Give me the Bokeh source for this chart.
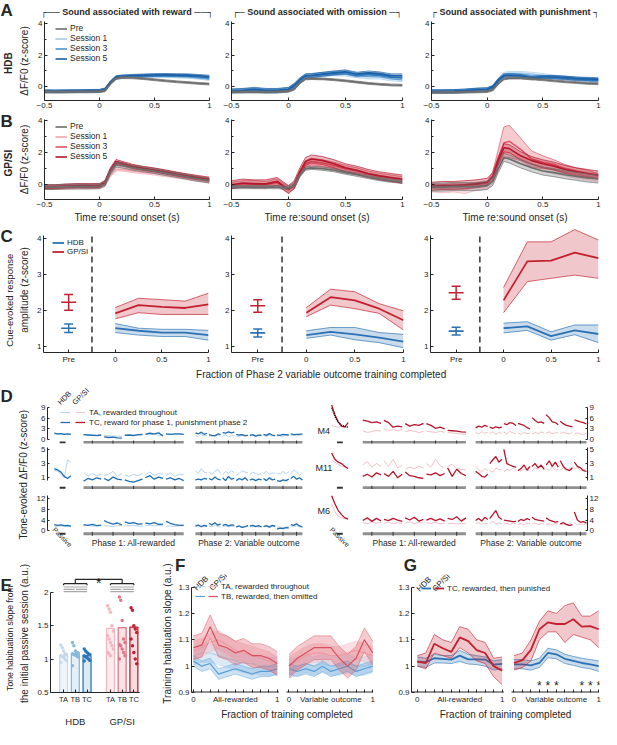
import numpy as np
from bokeh.plotting import figure
from bokeh.layouts import column, row
from bokeh.models import (Range1d, LinearAxis, FixedTicker, Label, Legend, LegendItem,
                          Whisker, TeeHead, ColumnDataSource, Title)
from bokeh.embed import file_html
from bokeh.resources import INLINE
from bokeh.core.properties import value

# ============================== DATA ==============================
# A / B : sound-evoked dF/F0 (z-score) around sound onset
t = [-0.5, -0.4, -0.3, -0.2, -0.1, 0.0, 0.05, 0.1, 0.15, 0.2, 0.3, 0.4, 0.5, 0.6, 0.7, 0.8, 0.9, 1.0]
sessions = ["Pre", "Session 1", "Session 3", "Session 5"]

hdb_reward = {
    "Pre":       [-0.32, -0.32, -0.32, -0.31, -0.31, -0.30, -0.25, 0.20, 0.52, 0.58, 0.57, 0.52, 0.45, 0.38, 0.32, 0.27, 0.22, 0.18],
    "Session 1": [-0.30, -0.30, -0.29, -0.28, -0.28, -0.27, -0.20, 0.25, 0.58, 0.63, 0.66, 0.68, 0.70, 0.69, 0.67, 0.64, 0.58, 0.50],
    "Session 3": [-0.28, -0.29, -0.28, -0.27, -0.26, -0.25, -0.18, 0.28, 0.60, 0.65, 0.68, 0.70, 0.72, 0.72, 0.70, 0.68, 0.62, 0.55],
    "Session 5": [-0.27, -0.28, -0.27, -0.26, -0.25, -0.24, -0.15, 0.30, 0.62, 0.66, 0.70, 0.73, 0.75, 0.76, 0.75, 0.74, 0.70, 0.65]}
hdb_reward_sem = {"Pre": 0.06, "Session 1": 0.10, "Session 3": 0.08, "Session 5": 0.08}

hdb_omission = {
    "Pre":       [-0.32, -0.32, -0.33, -0.33, -0.32, -0.28, -0.15, 0.25, 0.50, 0.52, 0.50, 0.45, 0.38, 0.30, 0.22, 0.16, 0.12, 0.10],
    "Session 1": [-0.28, -0.26, -0.22, -0.30, -0.28, -0.20, 0.00, 0.40, 0.65, 0.68, 0.80, 0.82, 0.80, 0.70, 0.62, 0.62, 0.50, 0.45],
    "Session 3": [-0.27, -0.25, -0.20, -0.25, -0.25, -0.18, 0.05, 0.42, 0.68, 0.70, 0.78, 0.85, 0.90, 0.75, 0.78, 0.75, 0.62, 0.55],
    "Session 5": [-0.25, -0.22, -0.15, -0.22, -0.22, -0.15, 0.10, 0.45, 0.70, 0.72, 0.80, 0.88, 0.95, 0.80, 0.88, 0.82, 0.70, 0.70]}
hdb_omission_sem = {"Pre": 0.06, "Session 1": 0.12, "Session 3": 0.12, "Session 5": 0.12}

hdb_punish = {
    "Pre":       [-0.35, -0.35, -0.35, -0.33, -0.32, -0.30, -0.20, 0.20, 0.50, 0.55, 0.55, 0.50, 0.45, 0.38, 0.32, 0.27, 0.22, 0.20],
    "Session 1": [-0.30, -0.30, -0.30, -0.28, -0.22, -0.20, -0.05, 0.45, 0.80, 0.85, 0.85, 0.80, 0.72, 0.62, 0.55, 0.50, 0.45, 0.42],
    "Session 3": [-0.30, -0.30, -0.28, -0.25, -0.20, -0.18, -0.05, 0.40, 0.72, 0.75, 0.72, 0.62, 0.62, 0.60, 0.55, 0.50, 0.45, 0.42],
    "Session 5": [-0.28, -0.28, -0.27, -0.24, -0.18, -0.15, 0.00, 0.42, 0.70, 0.72, 0.68, 0.55, 0.62, 0.62, 0.58, 0.52, 0.50, 0.47]}
hdb_punish_sem = {"Pre": 0.06, "Session 1": 0.12, "Session 3": 0.10, "Session 5": 0.10}

gp_reward = {
    "Pre":       [-0.15, -0.15, -0.12, -0.12, -0.12, -0.10, 0.05, 0.80, 1.25, 1.20, 1.05, 0.95, 0.85, 0.72, 0.60, 0.48, 0.35, 0.25],
    "Session 1": [-0.20, -0.20, -0.18, -0.15, -0.15, -0.12, 0.00, 0.60, 0.95, 0.95, 0.85, 0.78, 0.70, 0.60, 0.50, 0.40, 0.30, 0.20],
    "Session 3": [-0.15, -0.12, -0.10, -0.08, -0.10, -0.08, 0.10, 0.85, 1.30, 1.28, 1.10, 1.00, 0.90, 0.78, 0.65, 0.52, 0.40, 0.30],
    "Session 5": [-0.12, -0.12, -0.08, -0.05, -0.05, -0.05, 0.15, 0.95, 1.45, 1.35, 1.15, 1.02, 0.92, 0.80, 0.67, 0.55, 0.45, 0.35]}
gp_reward_sem = {"Pre": 0.15, "Session 1": 0.10, "Session 3": 0.12, "Session 5": 0.12}

gp_omission = {
    "Pre":       [-0.15, -0.15, -0.15, -0.15, -0.15, -0.20, -0.05, 0.60, 1.00, 1.05, 1.00, 0.90, 0.75, 0.62, 0.48, 0.35, 0.25, 0.18],
    "Session 1": [-0.10, 0.00, 0.00, -0.05, 0.10, -0.25, -0.10, 0.60, 1.10, 1.20, 1.10, 1.00, 0.85, 0.75, 0.55, 0.45, 0.30, 0.20],
    "Session 3": [-0.05, 0.05, 0.05, 0.00, 0.15, -0.30, -0.05, 0.70, 1.30, 1.45, 1.35, 1.20, 1.00, 0.85, 0.65, 0.50, 0.40, 0.30],
    "Session 5": [0.00, 0.10, 0.05, 0.05, 0.20, -0.30, 0.00, 0.80, 1.45, 1.60, 1.50, 1.30, 1.05, 0.90, 0.70, 0.55, 0.45, 0.35]}
gp_omission_sem = {"Pre": 0.10, "Session 1": 0.12, "Session 3": 0.20, "Session 5": 0.25}

gp_punish = {
    "Pre":       [-0.15, -0.15, -0.12, -0.12, -0.12, -0.05, 0.20, 1.00, 1.70, 1.60, 1.30, 1.05, 0.85, 0.75, 0.62, 0.52, 0.42, 0.35],
    "Session 1": [-0.20, -0.25, -0.20, -0.30, -0.10, 0.00, 0.30, 1.20, 2.00, 1.95, 1.60, 1.30, 1.10, 0.95, 0.80, 0.65, 0.55, 0.45],
    "Session 3": [-0.10, -0.10, -0.05, -0.05, 0.00, 0.10, 0.50, 1.60, 2.60, 2.70, 2.20, 1.60, 1.40, 1.25, 1.00, 0.85, 0.70, 0.55],
    "Session 5": [-0.10, -0.05, -0.05, 0.00, 0.05, 0.15, 0.50, 1.50, 2.30, 2.25, 1.80, 1.50, 1.30, 1.15, 0.95, 0.80, 0.70, 0.60]}
gp_punish_sem = {"Pre": 0.25, "Session 1": 0.25,
                 "Session 3": [0.1, 0.1, 0.1, 0.1, 0.1, 0.1, 0.3, 0.6, 1.0, 1.0, 0.7, 0.5, 0.4, 0.3, 0.25, 0.2, 0.2, 0.15],
                 "Session 5": 0.25}

# C : cue-evoked response amplitude vs fraction of phase 2 completed
c_x = [0.0, 0.25, 0.5, 0.75, 1.0]
c_pre_gp = [2.23, 2.13, 2.49]
c_pre_gp_lo = [2.01, 1.95, 2.31]
c_pre_gp_hi = [2.44, 2.30, 2.67]
c_pre_hdb = [1.51, 1.38, 1.43]
c_pre_hdb_lo = [1.39, 1.27, 1.32]
c_pre_hdb_hi = [1.63, 1.49, 1.54]
c_gp = [dict(m=[1.92, 2.15, 2.10, 2.07, 2.17], lo=[1.77, 1.94, 1.89, 1.89, 1.89], hi=[2.08, 2.34, 2.30, 2.26, 2.48]),
        dict(m=[1.94, 2.37, 2.28, 2.05, 1.73], lo=[1.83, 2.15, 2.05, 1.92, 1.46], hi=[2.08, 2.59, 2.52, 2.19, 1.99]),
        dict(m=[2.28, 3.36, 3.38, 3.60, 3.45], lo=[1.94, 2.80, 2.89, 2.98, 2.89], hi=[2.64, 3.90, 3.90, 4.24, 3.95])]
c_hdb = [dict(m=[1.51, 1.44, 1.39, 1.39, 1.32], lo=[1.39, 1.32, 1.28, 1.28, 1.18], hi=[1.64, 1.51, 1.48, 1.48, 1.45]),
         dict(m=[1.32, 1.41, 1.34, 1.25, 1.14], lo=[1.23, 1.32, 1.19, 1.11, 0.97], hi=[1.44, 1.53, 1.53, 1.39, 1.34]),
         dict(m=[1.51, 1.56, 1.29, 1.45, 1.35], lo=[1.38, 1.45, 1.18, 1.33, 1.11], hi=[1.65, 1.69, 1.41, 1.60, 1.60])]

# D : tone-evoked responses per session (passive, phase 1 x5, phase 2 x8)
d_hdb_ta = {
    "M4": dict(passive=[1.6, 1.5, 1.7, 1.6, 1.5, 1.6],
               phase1=[[1.5, 1.4, 1.5, 1.3, 1.4], [1.2, 1.1, 1.0, 1.0, 0.9], [1.3, 1.2, 1.4, 1.3, 1.2], [1.6, 1.4, 1.5, 1.2, 1.3], [1.5, 1.5, 1.4, 1.5, 1.5]],
               phase2=[[1.2, 0.8, 1.5, 1.0, 1.2], [1.1, 0.9, 1.0, 1.2, 1.0], [0.9, 1.4, 0.7, 1.2, 1.0], [1.1, 0.8, 1.3, 1.0, 1.2],
                       [1.0, 1.2, 0.9, 1.1, 1.0], [1.2, 0.9, 1.3, 1.0, 1.1], [1.0, 1.1, 0.9, 1.2, 1.0], [1.1, 1.3, 1.0, 1.2, 1.4]]),
    "M11": dict(passive=[2.1, 1.9, 1.5, 1.0, 3.5, 3.2],
                phase1=[[1.8, 1.2, 1.6, 1.3, 1.5], [1.3, 1.5, 1.9, 1.2, 1.6], [1.4, 1.2, 1.5, 1.3, 1.6], [1.4, 1.8, 1.3, 1.6, 1.5], [1.3, 1.7, 1.2, 1.5, 1.4]],
                phase2=[[2.0, 1.6, 2.3, 1.8, 1.7], [1.8, 1.5, 1.9, 2.2, 1.6], [1.4, 1.9, 1.6, 2.0, 1.7], [1.3, 1.6, 2.0, 1.8, 1.7],
                        [1.5, 1.8, 1.6, 1.4, 1.7], [1.6, 1.9, 1.5, 1.7, 1.6], [1.7, 1.5, 1.9, 1.6, 1.8], [1.5, 2.1, 1.8, 1.4, 1.6]]),
    "M6": dict(passive=[1.8, 1.7, 1.9, 1.6, 1.5, 1.6],
               phase1=[[1.8, 2.0, 1.7, 1.9, 1.8], [2.0, 1.8, 1.5, 1.9, 2.1], [2.2, 1.9, 2.0, 1.8, 1.7], [1.9, 2.1, 1.8, 2.0, 1.9], [1.7, 1.8, 1.6, 1.9, 1.8]],
               phase2=[[1.5, 1.8, 1.4, 1.6, 1.5], [1.7, 1.5, 1.9, 1.6, 1.4], [1.6, 1.8, 1.5, 1.7, 1.6], [1.4, 1.6, 1.3, 1.5, 1.7],
                       [1.6, 1.5, 1.8, 1.4, 1.6], [1.5, 1.7, 1.4, 1.6, 1.5], [1.3, 1.5, 1.2, 1.4, 1.6], [1.8, 1.6, 1.9, 1.5, 1.4]])}
d_hdb_tc = {
    "M4": dict(passive=[1.8, 1.6, 1.7, 1.5, 1.6, 1.5],
               phase1=[[1.4, 1.3, 1.2, 1.1, 1.3], [0.8, 0.6, 0.7, 0.5, 0.4], [1.2, 1.3, 1.1, 1.4, 1.5], [1.5, 1.8, 1.6, 1.9, 1.0], [1.6, 1.5, 1.6, 1.6, 1.5]],
               phase2=[[1.9, 1.6, 2.1, 1.5, 1.8], [1.4, 1.2, 1.1, 1.6, 1.5], [2.0, 1.8, 2.2, 1.9, 2.1], [1.5, 1.3, 1.4, 1.1, 1.2],
                       [1.2, 1.4, 1.0, 1.3, 1.2], [1.5, 1.2, 1.7, 1.3, 1.1], [1.3, 1.2, 1.5, 1.4, 1.3], [1.6, 1.4, 1.5, 1.5, 1.6]]),
    "M11": dict(passive=[2.3, 2.1, 1.8, 1.2, 0.9, 1.3],
                phase1=[[0.5, 0.9, 0.7, 1.0, 0.8], [0.9, 0.6, 1.1, 0.8, 0.7], [0.7, 0.5, 0.4, 0.6, 0.8], [1.0, 1.3, 0.8, 1.1, 0.9], [0.8, 1.0, 0.7, 0.9, 0.6]],
                phase2=[[0.7, 0.8, 0.7, 0.9, 0.8], [0.9, 0.7, 1.1, 0.8, 0.7], [1.0, 0.6, 1.2, 0.8, 0.9], [0.6, 0.9, 0.7, 1.0, 0.6],
                        [0.7, 0.8, 0.6, 0.8, 0.7], [0.9, 0.6, 1.0, 0.7, 0.8], [0.6, 0.5, 0.7, 0.6, 0.8], [0.9, 1.2, 0.8, 1.0, 0.7]]),
    "M6": dict(passive=[2.3, 2.0, 2.2, 1.9, 2.0, 1.7],
               phase1=[[2.3, 2.0, 2.4, 1.9, 2.1], [3.8, 3.0, 2.5, 2.9, 2.2], [3.3, 2.8, 3.0, 2.5, 2.6], [2.9, 2.6, 3.0, 2.4, 2.5], [3.5, 2.8, 2.3, 2.0, 2.1]],
               phase2=[[1.8, 2.1, 1.6, 2.0, 1.7], [2.8, 2.2, 3.0, 2.1, 2.5], [2.0, 2.4, 1.8, 2.2, 2.0], [1.5, 1.8, 1.3, 1.6, 1.9],
                       [1.8, 2.0, 1.6, 1.9, 1.5], [1.6, 1.9, 1.4, 2.0, 1.7], [0.6, 1.0, 0.8, 1.2, 1.1], [2.3, 2.0, 2.6, 1.8, 1.5]])}
d_gp_ta = {
    "M4": dict(passive=[4.0, 3.7, 3.5, 3.6, 3.4, 3.5],
               phase1=[[2.5, 2.0, 2.3, 2.6, 2.4], [3.0, 2.6, 2.8, 2.5, 2.9], [2.2, 2.6, 2.4, 2.0, 2.3], [2.4, 2.2, 2.0, 2.3, 2.1], [2.0, 1.9, 1.7, 1.6, 1.5]],
               phase2=[[2.0, 1.6, 2.2, 1.8, 2.1], [1.7, 2.1, 1.5, 2.0, 1.8], [2.1, 1.7, 2.3, 1.9, 1.6], [1.9, 1.5, 2.0, 1.7, 1.8],
                       [1.6, 2.0, 1.7, 2.2, 1.8], [1.8, 2.2, 1.6, 1.9, 2.0], [1.7, 2.1, 1.8, 1.6, 2.0], [1.5, 1.9, 1.6, 1.4, 1.8]]),
    "M11": dict(passive=[3.5, 3.2, 2.9, 2.6, 2.5, 2.3],
                phase1=[[2.8, 3.3, 2.5, 3.0, 2.6], [3.4, 2.6, 3.6, 2.4, 2.8], [2.2, 2.5, 2.3, 2.6, 2.4], [3.0, 2.5, 3.6, 2.7, 2.4], [2.6, 2.9, 2.3, 2.2, 2.1]],
                phase2=[[2.6, 2.2, 1.8, 2.3, 2.0], [2.0, 1.8, 2.4, 2.1, 2.2], [1.8, 2.2, 2.0, 2.4, 2.1], [2.2, 1.9, 2.3, 2.0, 2.1],
                        [2.0, 2.4, 2.2, 2.6, 2.3], [2.3, 2.0, 2.5, 2.1, 2.2], [2.1, 2.4, 2.0, 2.3, 2.2], [2.2, 2.5, 2.0, 2.1, 2.3]]),
    "M6": dict(passive=[10.0, 7.0, 5.5, 4.8, 4.5, 4.2],
               phase1=[[3.0, 2.6, 3.2, 2.8, 3.1], [2.8, 3.2, 2.6, 3.0, 2.7], [2.9, 3.3, 2.7, 3.1, 2.8], [3.0, 2.7, 3.2, 2.6, 2.9], [2.6, 2.8, 2.5, 2.7, 2.6]],
               phase2=[[2.6, 3.0, 2.4, 2.8, 2.7], [2.8, 3.5, 2.5, 3.0, 2.6], [2.5, 2.8, 2.4, 2.9, 2.6], [2.4, 2.7, 2.2, 2.8, 2.5],
                       [2.6, 2.9, 2.3, 2.7, 2.5], [2.3, 2.6, 2.1, 2.8, 2.4], [2.2, 2.5, 2.0, 2.6, 2.3], [2.8, 2.4, 2.6, 2.3, 2.5]])}
d_gp_tc = {
    "M4": dict(passive=[9.8, 7.0, 5.0, 3.8, 3.6, 4.8],
               phase1=[[5.5, 5.2, 4.8, 5.0, 4.6], [5.4, 4.8, 3.5, 3.8, 3.6], [4.5, 3.8, 4.2, 4.0, 4.6], [4.5, 4.0, 3.2, 3.5, 3.0], [2.6, 2.5, 2.4, 2.2, 2.1]],
               phase2=[[3.3, 3.8, 3.5, 4.0, 3.7], [3.5, 3.2, 3.6, 3.3, 3.5], [4.5, 4.2, 4.8, 4.6, 4.0], [4.6, 4.3, 4.0, 3.4, 3.0],
                       [6.2, 5.4, 4.8, 5.0, 4.6], [7.0, 6.2, 5.0, 4.8, 4.2], [5.2, 4.5, 4.0, 3.8, 3.6], [5.6, 5.3, 5.0, 4.8, 4.4]]),
    "M11": dict(passive=[4.5, 3.6, 3.2, 3.0, 2.6, 2.3],
                phase1=[[1.2, 1.5, 1.1, 1.7, 1.4], [1.6, 1.2, 1.9, 1.0, 1.5], [1.8, 1.3, 1.2, 1.0, 0.9], [1.5, 1.4, 1.7, 1.3, 1.6], [2.4, 1.2, 2.2, 1.6, 1.3]],
                phase2=[[1.9, 1.6, 1.2, 1.1, 1.5], [3.0, 3.5, 4.0, 3.2, 3.6], [5.0, 3.0, 2.8, 2.6, 2.5], [2.0, 2.3, 2.8, 2.1, 2.6],
                        [2.6, 3.0, 2.4, 2.8, 2.2], [2.8, 3.4, 2.6, 3.2, 2.5], [3.4, 2.6, 2.2, 2.0, 2.4], [3.2, 2.6, 2.4, 2.0, 1.9]]),
    "M6": dict(passive=[13.0, 10.0, 7.5, 6.0, 4.8, 4.4],
               phase1=[[3.8, 4.8, 3.5, 4.6, 3.7], [4.2, 3.8, 4.6, 4.0, 3.5], [4.8, 4.0, 5.0, 3.6, 4.2], [4.0, 4.6, 3.8, 4.4, 3.6], [4.6, 4.2, 5.2, 3.6, 4.8]],
               phase2=[[3.8, 4.6, 3.6, 5.0, 4.2], [4.5, 6.0, 7.5, 5.0, 4.2], [4.0, 3.8, 3.6, 3.4, 3.5], [3.5, 4.2, 3.8, 4.5, 4.0],
                       [5.0, 4.2, 4.0, 3.8, 3.6], [4.8, 4.0, 3.6, 3.2, 3.4], [2.6, 3.0, 2.4, 2.0, 2.2], [7.0, 4.0, 3.2, 3.4, 2.8]])}
d_gp_fit = [9.0, 6.5, 4.9, 4.1, 3.7, 3.5]

# E : tone habituation slope
e_groups = ["HDB", "GP/SI"]
e_types = ["TA", "TB", "TC"]
e_mean = [1.05, 1.08, 1.05, 1.46, 1.47, 1.48]
e_points = [[1.21, 1.17, 1.12, 1.08, 1.07, 1.05, 1.04, 1.03, 1.00, 0.98, 0.95],
            [1.25, 1.20, 1.12, 1.10, 1.09, 1.08, 1.07, 1.06, 1.05, 1.03, 0.90],
            [1.15, 1.12, 1.10, 1.08, 1.07, 1.05, 1.03, 1.02, 1.00, 0.98, 0.97],
            [1.80, 1.75, 1.70, 1.50, 1.42, 1.35, 1.30, 1.25, 1.20, 1.15, 1.10, 1.08, 1.05],
            [1.93, 1.88, 1.58, 1.30, 1.25, 1.22, 1.20, 1.15, 1.10, 1.05, 1.00],
            [1.77, 1.73, 1.50, 1.45, 1.40, 1.30, 1.20, 1.10, 1.00, 0.93]]

# F / G : training habituation slope
f_x = [0.0, 0.1, 0.2, 0.3, 0.4, 0.5, 0.6, 0.7, 0.8, 0.9, 1.0]
f_hdb_ta = dict(all=[1.04, 1.05, 1.05, 1.04, 1.03, 1.02, 1.01, 1.01, 1.00, 1.00, 1.00],
                var=[0.99, 1.00, 1.01, 1.00, 1.01, 1.00, 1.00, 1.01, 1.00, 1.00, 1.01], sem=0.035)
f_hdb_tb = dict(all=[1.02, 1.00, 1.01, 0.97, 0.98, 0.99, 0.98, 0.97, 0.98, 0.98, 0.99],
                var=[0.99, 0.98, 0.99, 0.98, 1.00, 0.98, 0.99, 1.00, 0.98, 0.99, 1.00], sem=0.02)
f_gp_ta = dict(all=[1.06, 1.07, 1.09, 1.10, 1.08, 1.06, 1.05, 1.04, 1.03, 1.02, 1.00],
               var=[1.00, 1.02, 1.04, 1.05, 1.05, 1.04, 1.04, 1.05, 1.06, 1.05, 1.04], sem=0.035)
f_gp_tb = dict(all=[1.07, 1.08, 1.15, 1.08, 1.07, 1.05, 1.06, 1.04, 1.04, 1.03, 1.01],
               var=[1.00, 1.03, 1.05, 1.07, 1.07, 1.07, 1.03, 1.00, 1.03, 1.10, 1.05], sem=0.045)

g_gp_tc = dict(all=[1.017, 1.012, 1.085, 1.068, 1.054, 1.109, 1.095, 1.061, 1.050, 1.000, 0.983],
               all_lo=[1.00, 0.99, 1.05, 1.04, 1.03, 1.07, 1.05, 1.02, 1.01, 0.96, 0.93],
               all_hi=[1.04, 1.05, 1.12, 1.10, 1.09, 1.15, 1.14, 1.10, 1.09, 1.03, 1.035],
               var=[1.012, 1.023, 1.062, 1.140, 1.166, 1.160, 1.160, 1.178, 1.150, 1.152, 1.140],
               var_lo=[0.985, 0.995, 1.02, 1.10, 1.13, 1.13, 1.09, 1.12, 1.11, 1.10, 1.07],
               var_hi=[1.04, 1.05, 1.10, 1.17, 1.21, 1.20, 1.23, 1.24, 1.19, 1.19, 1.21])
g_hdb_tc = dict(all=[1.017, 1.015, 1.030, 1.028, 1.025, 1.040, 1.026, 1.026, 1.025, 1.006, 1.009],
                all_lo=[1.000, 0.995, 1.012, 1.012, 1.010, 1.018, 1.008, 1.006, 1.000, 0.985, 0.990],
                all_hi=[1.035, 1.030, 1.045, 1.040, 1.040, 1.060, 1.045, 1.040, 1.035, 1.020, 1.025],
                var=[1.007, 1.007, 1.003, 1.012, 1.050, 1.045, 1.028, 1.020, 1.012, 1.007, 1.000],
                var_lo=[0.990, 0.990, 0.985, 0.995, 1.032, 1.028, 1.010, 1.003, 0.995, 0.990, 0.980],
                var_hi=[1.025, 1.025, 1.020, 1.030, 1.068, 1.062, 1.045, 1.037, 1.030, 1.025, 1.020])
g_sig = [0.3, 0.4, 0.5, 0.8, 0.9, 1.0]

# ============================== STYLE / HELPERS ==============================
FONT = "Liberation Sans"
INK = "#262626"
SX = 601 / 617
SY = 729 / 745


def X(v):
    return int(round(v * SX))


def Y(v):
    return int(round(v * SY))


def style_axis(ax, size="8px"):
    ax.axis_line_color = INK
    ax.axis_line_width = 1
    ax.major_tick_line_color = INK
    ax.minor_tick_line_color = INK
    ax.major_tick_in = 3
    ax.major_tick_out = 0
    ax.minor_tick_in = 2
    ax.minor_tick_out = 0
    ax.major_label_text_font = FONT
    ax.major_label_text_font_size = size
    ax.major_label_text_color = INK
    ax.major_label_standoff = 2
    ax.axis_label_text_font = FONT
    ax.axis_label_text_font_size = "10px"
    ax.axis_label_text_font_style = "normal"
    ax.axis_label_text_color = INK
    ax.axis_label_standoff = 2


def anchor_range(anch, f):
    vh, ph, vl, pl = anch
    unit = (pl - ph) / (vh - vl)
    return (vl - (f[1] - pl) / unit, vh + (ph - f[0]) / unit)


class Pane:
    def __init__(self, cx, cy, fx, fy, xr, yr, axes=True, title=None):
        self.fx, self.fy, self.xr, self.yr = fx, fy, xr, yr
        kw = {} if axes else dict(x_axis_location=None, y_axis_location=None)
        p = figure(width=X(cx[1]) - X(cx[0]), height=Y(cy[1]) - Y(cy[0]),
                   x_range=Range1d(*xr), y_range=Range1d(*yr), title=title,
                   output_backend="svg", toolbar_location=None,
                   min_border_left=X(fx[0]) - X(cx[0]), min_border_right=X(cx[1]) - X(fx[1]),
                   min_border_top=Y(fy[0]) - Y(cy[0]), min_border_bottom=Y(cy[1]) - Y(fy[1]), **kw)
        p.outline_line_color = None
        p.grid.visible = False
        p.background_fill_color = "white"
        p.border_fill_color = "white"
        if axes:
            for ax in p.axis:
                style_axis(ax)
        self.p = p

    def dx(self, rx):
        (a, b), (u, v) = self.fx, self.xr
        return u + (rx - a) / (b - a) * (v - u)

    def dy(self, ry):
        (a, b), (u, v) = self.fy, self.yr
        return v - (ry - a) / (b - a) * (v - u)

    def sx(self, rx):
        return X(rx) - X(self.fx[0])

    def sy(self, ry):
        return Y(self.fy[1]) - Y(ry)

    def label(self, rx, ry, text, size="8px", align="left", baseline="middle", angle=0.0, bold=False):
        self.p.add_layout(Label(x=self.dx(rx), y=self.dy(ry), text=text, angle=angle,
                                text_font=FONT, text_font_size=size, text_align=align,
                                text_baseline=baseline, text_color=INK,
                                text_font_style="bold" if bold else "normal"))

    def letter(self, rx, ry, text):
        self.label(rx, ry, text, size="17px", bold=True, baseline="top")


def letter_title(text, dx_ref):
    return Title(text=text, align="left", offset=-(dx_ref * SX), text_font=FONT, text_font_size="17px",
                 text_font_style="bold", text_color=INK, standoff=0)


def add_legend(P, items, rx, ry_bottom, glyph_w=12, label_w=20, standoff=3, size="8px", row_h=9):
    lg = Legend(items=items, location=(P.sx(rx), P.sy(ry_bottom)), orientation="vertical",
                label_text_font=FONT, label_text_font_size=size, label_text_color=INK,
                glyph_width=glyph_w, glyph_height=row_h, label_height=row_h, label_width=label_w,
                label_standoff=standoff, spacing=0, padding=0, margin=0,
                border_line_color=None, background_fill_alpha=0)
    P.p.add_layout(lg)


def band(p, x, lo, hi, color, alpha=0.3, edge_w=0.8):
    p.varea(x=x, y1=lo, y2=hi, fill_color=color, fill_alpha=alpha)
    p.line(x, lo, line_color=color, line_width=edge_w, line_alpha=0.85)
    p.line(x, hi, line_color=color, line_width=edge_w, line_alpha=0.85)


GRAY = "#6d6d6d"
COL_HDB = {"Pre": GRAY, "Session 1": "#a8cbe8", "Session 3": "#4a92ce", "Session 5": "#1b5fa6"}
COL_GP = {"Pre": GRAY, "Session 1": "#f2a5af", "Session 3": "#de5361", "Session 5": "#b3172c"}
BLUE = "#2b72b4"
RED = "#c3202f"
LW = 16  # width (reference px) of the left text column


# ============================== A / B ==============================
def trace_panel(cx, fx, cy, fy, yanch, means, sems, cols, title=None, xlabel=None,
                ylabel=False, legend_bottom=None):
    ttl = None
    if title:
        ttl = Title(text=title, align="center", text_font=FONT, text_font_size="9px",
                    text_font_style="bold", text_color=INK, standoff=9)
    P = Pane(cx, cy, fx, fy, (-0.5, 1.0), anchor_range(yanch, fy), title=ttl)
    p = P.p
    rend = {}
    for name in sessions[1:] + sessions[:1]:
        m = np.asarray(means[name], float)
        s = np.broadcast_to(np.asarray(sems[name], float), m.shape)
        c = cols[name]
        band(p, t, m - s, m + s, c, alpha=0.3)
        rend[name] = p.line(t, m, line_color=c, line_width=1.6)
    p.xaxis.ticker = FixedTicker(ticks=[-0.5, 0, 0.5, 1])
    p.xaxis.major_label_overrides = {0: "0", 1: "1"}
    p.yaxis.ticker = FixedTicker(ticks=[0, 2, 4], minor_ticks=[1, 3])
    if legend_bottom is not None:
        add_legend(P, [LegendItem(label=n, renderers=[rend[n]]) for n in sessions],
                   53, legend_bottom, size="8.5px", row_h=9)
    if ylabel:
        p.yaxis.axis_label = "\u0394F/F0 (z-score)"
        p.yaxis.axis_label_standoff = 5
    if xlabel:
        p.xaxis.axis_label = xlabel
    return P


FA = (21, 102)
FB = (122, 203)
A1 = trace_panel((LW, 228), (42, 215), (0, 114), FA, (4, 23, 0, 88), hdb_reward, hdb_reward_sem, COL_HDB,
                 title="\u250c\u2500\u2500 Sound associated with reward \u2500\u2500\u2510",
                 ylabel=True, legend_bottom=64)
A2 = trace_panel((228, 427), (237, 413), (0, 114), FA, (4, 23, 0, 88), hdb_omission, hdb_omission_sem, COL_HDB,
                 title="\u250c\u2500 Sound associated with omission \u2500\u2510")
A3 = trace_panel((427, 617), (442, 614), (0, 114), FA, (4, 23, 0, 88), hdb_punish, hdb_punish_sem, COL_HDB,
                 title="\u250c Sound associated with punishment \u2510")
XL = "Time re:sound onset (s)"
B1 = trace_panel((LW, 228), (42, 215), (114, 232), FB, (4, 123, 0, 188), gp_reward, gp_reward_sem, COL_GP,
                 xlabel=XL, ylabel=True, legend_bottom=165)
B2 = trace_panel((228, 427), (237, 413), (114, 232), FB, (4, 123, 0, 188), gp_omission, gp_omission_sem, COL_GP, xlabel=XL)
B3 = trace_panel((427, 617), (442, 614), (114, 232), FB, (4, 123, 0, 188), gp_punish, gp_punish_sem, COL_GP, xlabel=XL)


# ============================== C ==============================
C_FY = (232, 360)
C_YR = anchor_range((4, 243, 1, 354), C_FY)


def c_panel(cx, fx, i, first=False):
    P = Pane(cx, (232, 374), fx, C_FY, (-0.77, 1.0), C_YR)
    p = P.p
    rends = {}
    for key, dat, c, pm, plo, phi in (("GP/SI", c_gp[i], RED, c_pre_gp[i], c_pre_gp_lo[i], c_pre_gp_hi[i]),
                                      ("HDB", c_hdb[i], BLUE, c_pre_hdb[i], c_pre_hdb_lo[i], c_pre_hdb_hi[i])):
        band(p, c_x, dat["lo"], dat["hi"], c, alpha=0.25)
        rends[key] = p.line(c_x, dat["m"], line_color=c, line_width=1.8)
        src = ColumnDataSource(dict(x=[-0.5], lo=[plo], hi=[phi]))
        p.add_layout(Whisker(source=src, base="x", lower="lo", upper="hi", dimension="height",
                             line_color=c, line_width=1.5,
                             upper_head=TeeHead(size=9, line_color=c, line_width=1.5),
                             lower_head=TeeHead(size=9, line_color=c, line_width=1.5)))
        p.scatter(x=[-0.5], y=[pm], marker="dash", size=15, line_color=c, line_width=1.6)
    p.segment(x0=[-0.25], x1=[-0.25], y0=[C_YR[0]], y1=[4.08], line_color="#333333",
              line_width=1.5, line_dash="6 4")
    p.xaxis.ticker = FixedTicker(ticks=[-0.5, 0, 0.5, 1])
    p.xaxis.major_label_overrides = {-0.5: "Pre", 0: "0", 1: "1"}
    p.yaxis.ticker = FixedTicker(ticks=[1, 2, 3, 4])
    p.yaxis.bounds = (C_YR[0], 4.08)
    if first:
        p.yaxis.axis_label = "amplitude (z-score)"
        p.yaxis.axis_label_standoff = 4
        add_legend(P, [LegendItem(label="HDB", renderers=[rends["HDB"]]),
                       LegendItem(label="GP/SI", renderers=[rends["GP/SI"]])], 50, 262, row_h=9)
    return P


C1 = c_panel((LW, 228), (41, 214), 0, first=True)
C2 = c_panel((228, 427), (237, 414), 1)
C3 = c_panel((427, 617), (441, 614), 2)

CL = Pane((LW, 617), (374, 390), (LW, 617), (374, 390), (LW, 617), (0, 16), axes=False)
CL.label(329, 382, "Fraction of Phase 2 variable outcome training completed", size="10px", align="center")

# left text column for rows A-C (panel letters and outer axis titles)
LT = Pane((0, LW), (0, 390), (0, LW), (0, 390), (0, LW), (0, 390), axes=False)
LT.letter(0, 0, "A")
LT.label(8, 64, "HDB", size="10px", bold=True, align="center", angle=np.pi / 2)
LT.letter(0, 114, "B")
LT.label(8, 166, "GP/SI", size="10px", bold=True, align="center", angle=np.pi / 2)
LT.letter(0, 231, "C")
LT.label(9, 306, "Cue-evoked response", size="9.5px", align="center", angle=np.pi / 2)

# ============================== D ==============================
HDB_BLOCKS = {"passive": (55, 72, 1, 0), "phase1": (85, 188, 5, 3), "phase2": (200, 310, 8, 2)}
GP_BLOCKS = {"passive": (340, 357, 1, 0), "phase1": (372, 478, 5, 3), "phase2": (488, 602, 8, 2)}


def session_span(block, k):
    x0, x1, n, gap = block
    w = (x1 - x0 - gap * (n - 1)) / n
    s = x0 + k * (w + gap)
    return s, s + w


def session_x(block, k, npts):
    a, b = session_span(block, k)
    return list(np.linspace(a, b, npts))


D_ROWS = [
    ("M4", (390, 455), (390, 453), (9, 416, 0, 449), [0, 3, 6, 9], (0, 9), 440),
    ("M11", (455, 500), (455, 500), (5, 459, 1, 488), [1, 3, 5], (0.6, 5.2), 478),
    ("M6", (500, 565), (500, 565), (12, 509, 0, 542), [0, 4, 8, 12], (0, 13), 522),
]

D_panels = []
for mouse, cy, fy, anch, ticks, bounds, label_y in D_ROWS:
    P = Pane((34, 617), cy, (48, 603), fy, (48, 603), anchor_range(anch, fy), axes=False)
    p = P.p
    for side in ("left", "right"):
        ax = LinearAxis(ticker=FixedTicker(ticks=ticks), bounds=bounds)
        style_axis(ax)
        ax.major_tick_in = 2
        p.add_layout(ax, side)
    unit = (anch[3] - anch[1]) / (anch[0] - anch[2])
    base = -3.0 / unit
    rend = {}
    for grp, blocks, ta, tc, c_ta, c_tc in (("HDB", HDB_BLOCKS, d_hdb_ta, d_hdb_tc, "#b7d3ec", "#1f6db3"),
                                           ("GP", GP_BLOCKS, d_gp_ta, d_gp_tc, "#f1c2c8", "#b5162b")):
        segs = [blocks["phase1"], blocks["phase2"]]
        p.segment(x0=[b[0] for b in segs], x1=[b[1] for b in segs], y0=[base, base], y1=[base, base],
                  line_color="#8f8f8f", line_width=3)
        cen = [sum(session_span(b, k)) / 2 for b in segs for k in range(b[2])]
        p.scatter(x=cen, y=[base] * len(cen), marker="dash", angle=np.pi / 2, size=4,
                  line_color="#333333")
        pc = sum(session_span(blocks["passive"], 0)) / 2
        p.segment(x0=[pc - 3], x1=[pc + 3], y0=[base], y1=[base], line_color="#333333", line_width=2)
        for key, ser, col, lw in (("TA", ta, c_ta, 1.0), ("TC", tc, c_tc, 1.3)):
            m = ser[mouse]
            xs = [session_x(blocks["passive"], 0, len(m["passive"]))]
            ys = [m["passive"]]
            for ph in ("phase1", "phase2"):
                for k, seg in enumerate(m[ph]):
                    xs.append(session_x(blocks[ph], k, len(seg)))
                    ys.append(seg)
            rend[(grp, key)] = p.multi_line(xs=xs, ys=ys, line_color=col, line_width=lw)
    if mouse == "M4":
        p.line(session_x(GP_BLOCKS["passive"], 0, len(d_gp_fit)), d_gp_fit, line_color="black",
               line_width=1.3, line_dash="1 1")
        add_legend(P, [LegendItem(label=" ", renderers=[rend[("HDB", "TA")]]),
                       LegendItem(label=" ", renderers=[rend[("HDB", "TC")]])],
                   62, 436, glyph_w=10, label_w=0, standoff=0, row_h=10)
        add_legend(P, [LegendItem(label="TA, rewarded throughout", renderers=[rend[("GP", "TA")]]),
                       LegendItem(label="TC, reward for phase 1, punishment phase 2", renderers=[rend[("GP", "TC")]])],
                   77, 436, glyph_w=10, standoff=4, row_h=10)
        P.label(63, 415, "HDB", size="7.5px", angle=np.pi / 4, baseline="bottom")
        P.label(78, 415, "GP/SI", size="7.5px", angle=np.pi / 4, baseline="bottom")
    if mouse == "M6":
        for blocks in (HDB_BLOCKS, GP_BLOCKS):
            P.label((blocks["phase1"][0] + blocks["phase1"][1]) / 2, 554, "Phase 1: All-rewarded",
                    size="8.5px", align="center")
            P.label((blocks["phase2"][0] + blocks["phase2"][1]) / 2, 554, "Phase 2: Variable outcome",
                    size="8.5px", align="center")
            P.label(blocks["passive"][0] + 2, 537, "Passive", size="7px", angle=-np.pi / 4, baseline="top")
    P.label(332, label_y, mouse, size="9px", align="center")
    D_panels.append(P)

DL = Pane((0, 34), (390, 565), (0, 34), (390, 565), (0, 34), (0, 175), axes=False)
DL.letter(0, 395, "D")
DL.label(24, 483, "Tone-evoked  \u0394F/F0 (z-score)", size="10px", align="center", angle=np.pi / 2)

# ============================== E ==============================
E_POS = [i + 1 + (i // 3) for i in range(6)]
E_FILL = ["#eef4fa", "#e5eff8", "#dde9f5", "#fcecee", "#fae3e6", "#f7dde0"]
E_LINE = ["#c3d9ee", "#88b8df", "#2c78bd", "#f4b6bf", "#e07585", "#c21d31"]
E = Pane((LW, 158), (565, 745), (48, 143), (576, 715), (-0.12, 7.48), anchor_range((2.0, 597, 0.5, 715), (576, 715)))
pe = E.p
pe.vbar(x=E_POS, top=e_mean, bottom=0.5, width=0.68, fill_color=E_FILL, line_color=E_LINE, line_width=1.3)
for i, pts in enumerate(e_points):
    xs = [E_POS[i] + ((j % 5) - 2) * 0.12 for j in range(len(pts))]
    pe.scatter(x=xs, y=pts, size=3.5, fill_color=E_LINE[i], line_color=None)
pe.yaxis.ticker = FixedTicker(ticks=[0.5, 1, 1.5, 2])
pe.yaxis.major_label_overrides = {1: "1", 2: "2"}
pe.yaxis.bounds = (0.5, 2.0)
pe.yaxis.axis_label = "the initial passive session (a.u.)"
pe.yaxis.axis_label_standoff = 4
pe.xaxis.ticker = FixedTicker(ticks=E_POS)
pe.xaxis.major_label_overrides = {E_POS[i]: e_types[i % 3] for i in range(6)}
pe.xaxis.major_label_text_font_size = "7.5px"
gax = LinearAxis(ticker=FixedTicker(ticks=[E_POS[1], E_POS[4]]),
                 major_label_overrides={E_POS[1]: e_groups[0], E_POS[4]: e_groups[1]},
                 axis_line_color=None, major_tick_line_color=None, minor_tick_line_color=None,
                 major_label_text_font=FONT, major_label_text_font_size="9.5px",
                 major_label_text_color=INK, major_label_standoff=3)
pe.add_layout(gax, "below")
# significance brackets
cH, cG = E_POS[1], E_POS[4]
pe.segment(x0=[cH, cH, cG], x1=[cG, cH, cG], y0=[2.195, 2.195, 2.195], y1=[2.195, 2.13, 2.13],
           line_color=INK, line_width=1.2)
for c in (cH, cG):
    pe.segment(x0=[c - 1, c - 1, c + 1], x1=[c + 1, c - 1, c + 1], y0=[2.13, 2.13, 2.13], y1=[2.13, 2.105, 2.105],
               line_color=INK, line_width=1.2)
    pe.segment(x0=[c - 1, c - 1, c + 0.06, c - 1], x1=[c + 1, c - 0.06, c + 1, c + 1],
               y0=[2.08, 2.045, 2.045, 2.01], y1=[2.08, 2.045, 2.045, 2.01],
               line_color="#a6a6a6", line_width=1.2)
pe.add_layout(Label(x=(cH + cG) / 2, y=2.14, text="*", text_font=FONT, text_font_size="14px",
                    text_align="center", text_baseline="middle", text_color=INK))

LE = Pane((0, LW), (565, 745), (0, LW), (565, 745), (0, LW), (0, 180), axes=False)
LE.letter(0, 567, "E")
LE.label(9, 662, "Tone habituation slope from", size="8.6px", align="center", angle=np.pi / 2)

# ============================== F / G ==============================
OFF = 1.14
FG_FY = (584, 715)
FG_YR = anchor_range((1.3, 598, 0.9, 715), FG_FY)


def fg_axes(P):
    p = P.p
    ticks, over = [], {}
    for seg, name in ((0.0, "All-rewarded"), (OFF, "Variable outcome")):
        for v in f_x:
            tk = round(seg + v, 3)
            ticks.append(tk)
            over[tk] = ""
        over[round(seg, 3)] = "0"
        over[round(seg + 0.5, 3)] = name
        over[round(seg + 1.0, 3)] = "1"
    p.xaxis.ticker = FixedTicker(ticks=ticks)
    p.xaxis.major_label_overrides = over
    p.xaxis.axis_line_color = None
    p.xaxis.major_tick_in = 3
    p.xaxis.axis_label = "Fraction of training completed"
    p.yaxis.ticker = FixedTicker(ticks=[0.9, 1.0, 1.1, 1.2, 1.3])
    p.yaxis.major_label_overrides = {1.0: "1"}
    p.yaxis.bounds = (0.9, 1.3)
    p.segment(x0=[P.xr[0], OFF - 0.03], x1=[1.02, OFF + 1.0], y0=[0.9, 0.9], y1=[0.9, 0.9],
              line_color=INK, line_width=2)


F = Pane((158, 405), (565, 745), (196, 392), FG_FY, (-0.023, 2.256), FG_YR, title=letter_title("F", 17))
pf = F.p
f_seg2 = [OFF + v for v in f_x]
frend = {}
for key, dat, col, alpha in (("hdb_ta", f_hdb_ta, "#b3d1ec", 0.45), ("gp_ta", f_gp_ta, "#f4b9c1", 0.45),
                             ("hdb_tb", f_hdb_tb, "#5b9fd4", 0.3), ("gp_tb", f_gp_tb, "#d9505e", 0.3)):
    for xs, ys in ((f_x, dat["all"]), (f_seg2, dat["var"])):
        m = np.asarray(ys)
        band(pf, xs, m - dat["sem"], m + dat["sem"], col, alpha=alpha, edge_w=0.5)
        frend[key] = pf.line(xs, m, line_color=col, line_width=1.2)
fg_axes(F)
pf.yaxis.axis_label = "Training habituation slope (a.u.)"
add_legend(F, [LegendItem(label=" ", renderers=[frend["hdb_ta"]]), LegendItem(label=" ", renderers=[frend["hdb_tb"]])],
           200, 622, glyph_w=10, label_w=0, standoff=0, row_h=10)
add_legend(F, [LegendItem(label="TA, rewarded throughout", renderers=[frend["gp_ta"]]),
               LegendItem(label="TB, rewarded, then omitted", renderers=[frend["gp_tb"]])],
           214, 622, glyph_w=10, standoff=3, row_h=10)
F.label(203, 604, "HDB", size="8px", angle=np.pi / 4, baseline="bottom")
F.label(219, 604, "GP/SI", size="8px", angle=np.pi / 4, baseline="bottom")

G = Pane((405, 617), (565, 745), (422, 615), FG_FY, (-0.069, 2.149), FG_YR, title=letter_title("G", 8))
pg = G.p
grend = {}
for key, dat, col in (("hdb", g_hdb_tc, BLUE), ("gp", g_gp_tc, RED)):
    for xs, seg in ((f_x, "all"), (f_seg2, "var")):
        band(pg, xs, dat[seg + "_lo"], dat[seg + "_hi"], col, alpha=0.25, edge_w=0.7)
        grend[key] = pg.line(xs, dat[seg], line_color=col, line_width=1.8)
pg.text(x=[OFF + v for v in g_sig], y=[0.925] * len(g_sig), text=["*"] * len(g_sig),
        text_font=value(FONT), text_font_size="12px", text_align="center", text_baseline="middle",
        text_color=INK)
fg_axes(G)
add_legend(G, [LegendItem(label=" ", renderers=[grend["hdb"]])], 432, 614, glyph_w=10, label_w=0, standoff=0, row_h=10)
add_legend(G, [LegendItem(label="TC, rewarded, then punished", renderers=[grend["gp"]])], 446, 614,
           glyph_w=10, standoff=3, row_h=10)
G.label(432, 605, "HDB", size="8px", angle=np.pi / 4, baseline="bottom")
G.label(448, 605, "GP/SI", size="8px", angle=np.pi / 4, baseline="bottom")

# ============================== LAYOUT ==============================
layout = column(
    row(LT.p, column(row(A1.p, A2.p, A3.p), row(B1.p, B2.p, B3.p), row(C1.p, C2.p, C3.p), CL.p)),
    row(DL.p, column(*[P.p for P in D_panels])),
    row(LE.p, E.p, F.p, G.p),
)

open("out.html", "w").write(file_html(layout, INLINE))
